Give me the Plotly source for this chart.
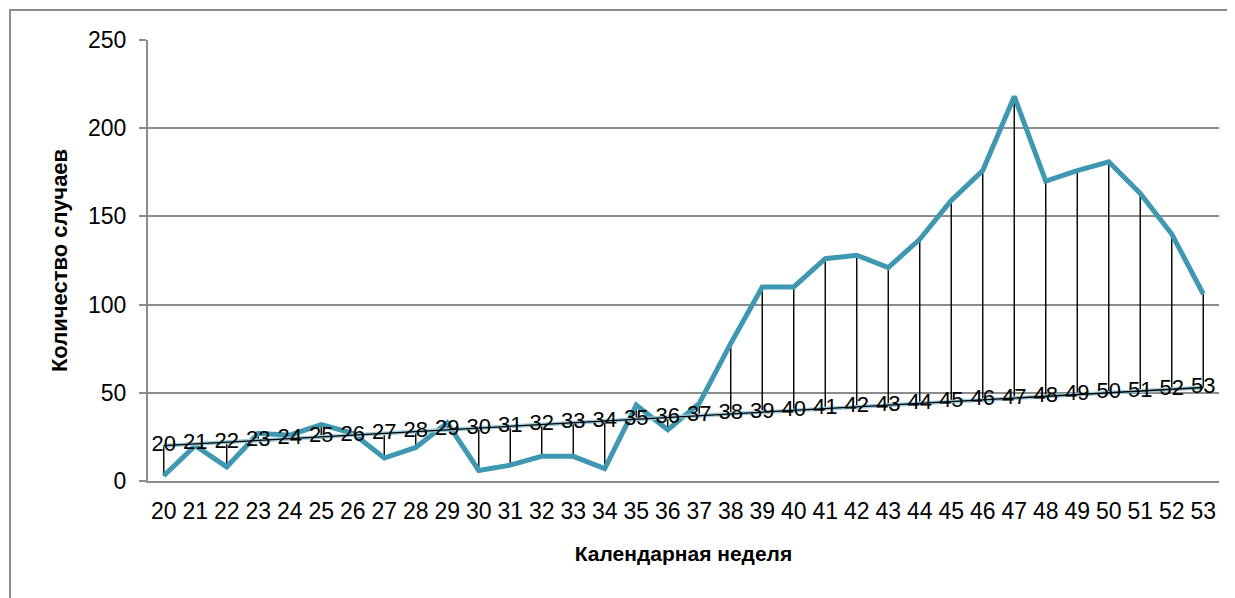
import plotly.graph_objects as go

weeks = [str(w) for w in range(20, 54)]
cases = [3, 20, 8, 27, 26, 32, 27, 13, 19, 33, 6, 9, 14, 14, 7, 43, 29, 44,
         78, 110, 110, 126, 128, 121, 137, 159, 176, 218, 170, 176, 181, 163, 140, 106]
week_values = list(range(20, 54))

y_ticks = [0, 50, 100, 150, 200, 250]

FONT = "Liberation Sans"
GRID = "#8c8c8c"

# high-low (drop) lines between the two series
dx, dy = [], []
for w, c, v in zip(weeks, cases, week_values):
    dx += [w, w, None]
    dy += [c, v, None]

fig = go.Figure()
fig.add_trace(go.Scatter(x=dx, y=dy, mode="lines",
                         line=dict(color="black", width=1.4),
                         hoverinfo="skip", showlegend=False))
fig.add_trace(go.Scatter(x=weeks, y=cases, mode="lines",
                         line=dict(color="#3F98B1", width=5),
                         showlegend=False))
fig.add_trace(go.Scatter(x=weeks, y=week_values, mode="lines",
                         line=dict(color="#9CCBDB", width=4),
                         showlegend=False))
fig.add_trace(go.Scatter(x=weeks, y=week_values, mode="lines+text",
                         line=dict(color="black", width=1.3),
                         text=[str(v) for v in week_values],
                         textposition="middle center",
                         textfont=dict(family=FONT, size=22, color="black"),
                         showlegend=False))

# page has an 8px body margin: compensate so the plot lands where the reference has it
W, H = 1227, 590
L, R, T, B = 140, 16, 32, 117
pw, ph = W - L - R, H - T - B

fig.update_layout(
    width=W, height=H,
    margin=dict(l=L, r=R, t=T, b=B),
    paper_bgcolor="white", plot_bgcolor="white",
    font=dict(family=FONT, color="black"),
    xaxis=dict(
        type="category", categoryorder="array", categoryarray=weeks,
        range=[-0.5, len(weeks) - 0.5], autorange=False,
        showgrid=False, showline=True, linecolor=GRID, linewidth=2,
        ticks="", tickfont=dict(family=FONT, size=23),
        ticklabelstandoff=8,
        title=dict(text="<b>Календарная неделя</b>",
                   font=dict(family=FONT, size=21), standoff=24),
        zeroline=False,
    ),
    yaxis=dict(
        range=[0, 250], tickvals=y_ticks,
        showgrid=True, gridcolor=GRID, gridwidth=2,
        showline=True, linecolor=GRID, linewidth=2,
        ticks="outside", ticklen=7, tickcolor=GRID, tickwidth=2,
        tickfont=dict(family=FONT, size=23),
        ticklabelstandoff=8,
        title=dict(text="<b>Количество случаев</b>",
                   font=dict(family=FONT, size=22), standoff=14),
        zeroline=False,
    ),
    shapes=[dict(type="rect", xref="paper", yref="paper",
                 x0=(2 - L) / pw, x1=1.2,
                 y0=-0.6, y1=(H - B - 2) / ph,
                 line=dict(color=GRID, width=2), fillcolor="rgba(0,0,0,0)",
                 layer="below")],
)

fig.write_html("out.html")
